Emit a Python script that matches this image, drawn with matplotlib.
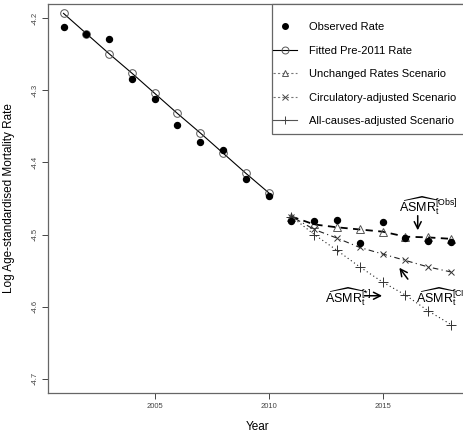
import numpy as np
import matplotlib
matplotlib.use('Agg')
import matplotlib.pyplot as plt
from matplotlib.lines import Line2D
from matplotlib.patches import Rectangle

plt.rcParams['font.family'] = ['Liberation Sans', 'DejaVu Sans']
plt.rcParams['mathtext.fontset'] = 'custom'
plt.rcParams['mathtext.rm'] = 'Liberation Sans'
plt.rcParams['mathtext.it'] = 'Liberation Sans:italic'

# log age-standardised mortality rates
years_pre = [2001, 2002, 2003, 2004, 2005, 2006, 2007, 2008, 2009, 2010]
years_post = [2011, 2012, 2013, 2014, 2015, 2016, 2017, 2018]

observed_pre = [-4.212, -4.221, -4.228, -4.284, -4.312, -4.348, -4.371, -4.382, -4.423, -4.446]
observed_post = [-4.481, -4.481, -4.480, -4.512, -4.482, -4.505, -4.509, -4.511]
fitted_pre = [-4.193, -4.221, -4.249, -4.276, -4.304, -4.332, -4.359, -4.387, -4.415, -4.442]

unchanged = [-4.475, -4.486, -4.490, -4.493, -4.496, -4.503, -4.504, -4.506]
circulatory = [-4.475, -4.493, -4.505, -4.518, -4.527, -4.536, -4.545, -4.552]
allcauses = [-4.475, -4.500, -4.522, -4.545, -4.566, -4.584, -4.606, -4.625]

legend_labels = ['Observed Rate', 'Fitted Pre-2011 Rate', 'Unchanged Rates Scenario',
                 'Circulatory-adjusted Scenario', 'All-causes-adjusted Scenario']

W, H = 463, 432
fig = plt.figure(figsize=(W/100, H/100), dpi=100)
ax = fig.add_axes([48/W, 1 - 393/H, (466.5 - 48)/W, (393 - 4)/H])

lw = 0.8
ax.plot(years_pre, fitted_pre, color='black', lw=lw, marker='o', mfc='none',
        mec='#555555', ms=5.5, mew=0.7)
ax.plot(years_post, unchanged, color='black', lw=1.3, ls=(0, (4, 3)),
        marker='^', mfc='none', mec='#555555', ms=5.5, mew=0.7)
ax.plot(years_post, circulatory, color='#222222', lw=lw, ls=(0, (1, 3, 5, 3)),
        marker='x', mec='#333333', ms=4.5, mew=0.7)
ax.plot(years_post, allcauses, color='#222222', lw=lw, ls=(0, (1, 2.5)),
        marker='+', mec='#333333', ms=6.5, mew=0.7)
ax.plot(years_pre + years_post, observed_pre + observed_post, ls='none',
        marker='o', color='black', ms=4.3)

ax.set_xlim(2000.32, 2018.68)
ax.set_ylim(-4.72, -4.18)
ax.set_xticks([2005, 2010, 2015])
ax.set_yticks([-4.2, -4.3, -4.4, -4.5, -4.6, -4.7])
ax.set_yticklabels(['-4.2', '-4.3', '-4.4', '-4.5', '-4.6', '-4.7'], rotation=90, va='center')
ax.tick_params(labelsize=5.5, colors='#444444', length=4, width=0.7, pad=3)
for s in ax.spines.values():
    s.set_color('#666666')
    s.set_linewidth(0.9)

ax.set_xlabel('Year', fontsize=8.5, labelpad=8)
ax.set_ylabel('Log Age-standardised Mortality Rate', fontsize=8.5, labelpad=12)

# annotations
ann = dict(fontsize=9, ha='left', va='baseline')
ax.text(2015.70, -4.468, r'$\widehat{\mathrm{ASMR}}_{\mathrm{t}}^{[\mathrm{Obs}]}$', **ann)
ax.text(2012.46, -4.595, r'$\widehat{\mathrm{ASMR}}_{\mathrm{t}}^{[*]}$', **ann)
ax.text(2016.45, -4.595, r'$\widehat{\mathrm{ASMR}}_{\mathrm{t}}^{[\mathrm{CIR}]}$', **ann)

arrow = dict(arrowstyle='->,head_length=0.5,head_width=0.25', color='black', lw=1.1)
ax.annotate('', xy=(2016.54, -4.498), xytext=(2016.54, -4.470), arrowprops=arrow)
ax.annotate('', xy=(2015.10, -4.585), xytext=(2014.08, -4.585), arrowprops=arrow)
ax.annotate('', xy=(2015.66, -4.543), xytext=(2016.18, -4.565), arrowprops=arrow)

# legend box drawn separately so the padding can be set per side
fig.patches.append(Rectangle((272/W, 1 - 134/H), (470 - 272)/W, (134 - 4)/H,
                             transform=fig.transFigure, fill=True, facecolor='white',
                             edgecolor='#666666', lw=0.9, zorder=5))
handles = [
    Line2D([], [], ls='none', marker='o', color='black', ms=4),
    Line2D([], [], color='black', lw=lw, marker='o', mfc='none', mec='#555555', ms=5, mew=0.7),
    Line2D([], [], color='#777777', lw=lw, ls=(0, (2, 2)), marker='^', mfc='none', mec='#555555', ms=5, mew=0.7),
    Line2D([], [], color='#777777', lw=lw, ls=(0, (2, 2)), marker='x', mec='#444444', ms=4, mew=0.7),
    Line2D([], [], color='#555555', lw=lw, marker='+', mec='#444444', ms=6, mew=0.7),
]
leg = fig.legend(handles, legend_labels, loc='upper left',
                 bbox_to_anchor=(273/W, 1 - 22/H), borderaxespad=0, borderpad=0,
                 frameon=False, fontsize=8, handlelength=2.15, handletextpad=1.05,
                 labelspacing=1.22)
leg.set_zorder(6)

fig.savefig('out.png', dpi=100)
